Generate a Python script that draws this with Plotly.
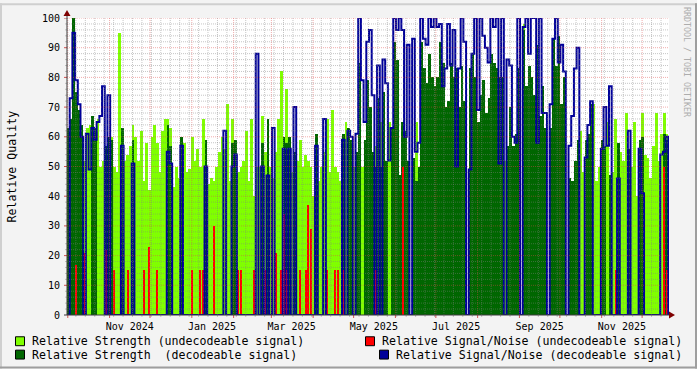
import pandas as pd
import plotly.graph_objects as go

# ---------------- data (2-day samples starting at axis start) ----------------
axis_start = pd.Timestamp("2024-09-30 10:00")
axis_end = pd.Timestamp("2025-12-20 22:30")
sample_days = 2

strength_undec = [
    48, 0, 0, 0, 0, 0, 52, 63, 64, 0,
    0, 66, 50, 52, 53, 0, 60, 50, 48, 95,
    50, 52, 54, 57, 64, 60, 52, 62, 45, 58,
    42, 60, 64, 58, 48, 62, 66, 66, 63, 43,
    50, 46, 0, 58, 48, 49, 60, 52, 56, 50,
    66, 0, 44, 46, 45, 50, 55, 60, 56, 71,
    45, 66, 55, 48, 50, 52, 62, 45, 66, 40,
    50, 50, 67, 55, 65, 50, 46, 55, 66, 82,
    0, 76, 0, 48, 0, 52, 59, 50, 54, 52,
    50, 40, 0, 45, 50, 55, 66, 48, 69, 50,
    48, 45, 0, 65, 0, 0, 50, 0, 0, 50,
    0, 0, 0, 0, 57, 0, 65, 0, 0, 65,
    0, 0, 0, 0, 0, 0, 0, 0, 0, 65,
    0, 0, 0, 0, 0, 0, 0, 0, 0, 0,
    0, 0, 0, 0, 0, 0, 0, 0, 0, 0,
    0, 0, 0, 0, 0, 0, 0, 0, 0, 0,
    0, 0, 52, 0, 0, 0, 0, 0, 0, 98,
    0, 0, 0, 0, 0, 0, 0, 0, 0, 0,
    0, 0, 0, 0, 0, 0, 0, 0, 0, 0,
    62, 48, 0, 48, 0, 71, 45, 50, 0, 0,
    65, 0, 48, 66, 0, 55, 52, 68, 0, 50,
    65, 40, 0, 68, 54, 53, 46, 57, 68, 52,
    61, 68, 61,
]

strength_dec = [
    63, 66, 100, 75, 69, 64, 0, 0, 0, 67,
    63, 0, 0, 0, 57, 60, 59, 0, 0, 0,
    63, 0, 0, 0, 59, 0, 0, 0, 0, 0,
    0, 0, 0, 0, 0, 0, 0, 64, 57, 0,
    0, 0, 60, 0, 0, 0, 0, 0, 0, 0,
    0, 59, 0, 0, 0, 0, 0, 0, 0, 0,
    0, 58, 59, 0, 0, 0, 0, 0, 0, 0,
    0, 0, 58, 0, 66, 0, 0, 0, 0, 0,
    60, 58, 60, 0, 55, 0, 0, 0, 0, 0,
    0, 0, 61, 0, 0, 0, 0, 0, 0, 0,
    0, 0, 61, 0, 63, 59, 0, 55, 85, 0,
    59, 79, 70, 55, 50, 73, 50, 75, 52, 0,
    63, 92, 86, 47, 65, 62, 52, 0, 53, 45,
    50, 92, 83, 78, 88, 80, 77, 80, 92, 85,
    70, 72, 85, 80, 83, 70, 84, 72, 0, 83,
    88, 80, 65, 74, 79, 68, 73, 88, 85, 83,
    80, 80, 0, 57, 70, 57, 61, 83, 0, 96,
    77, 84, 80, 74, 91, 67, 77, 63, 0, 63,
    93, 84, 94, 71, 80, 0, 46, 45, 52, 59,
    0, 0, 59, 61, 71, 0, 0, 0, 59, 57,
    0, 47, 0, 0, 58, 0, 0, 0, 56, 0,
    0, 0, 59, 60, 0, 0, 0, 0, 0, 0,
    0, 61, 59,
]

sn_dec = [
    0, 73, 95, 79, 71, 60, 0, 61, 49, 63,
    59, 65, 67, 77, 0, 74, 0, 0, 0, 0,
    57, 0, 0, 0, 51, 0, 0, 0, 0, 0,
    0, 0, 0, 0, 0, 0, 0, 55, 51, 0,
    0, 0, 57, 0, 0, 0, 0, 0, 0, 0,
    0, 50, 0, 0, 0, 0, 0, 0, 62, 0,
    0, 50, 54, 0, 0, 0, 0, 0, 0, 0,
    88, 0, 50, 0, 47, 0, 63, 0, 0, 0,
    56, 0, 56, 0, 70, 0, 0, 0, 0, 0,
    0, 0, 57, 0, 0, 66, 0, 0, 0, 0,
    0, 0, 59, 0, 62, 60, 0, 61, 100, 79,
    65, 92, 96, 74, 0, 84, 0, 86, 78, 52,
    63, 100, 96, 100, 96, 60, 91, 0, 93, 55,
    58, 100, 93, 91, 100, 97, 100, 97, 98, 77,
    83, 98, 84, 96, 50, 83, 100, 92, 0, 49,
    88, 100, 69, 100, 94, 90, 85, 100, 97, 100,
    51, 100, 0, 86, 84, 60, 58, 100, 0, 97,
    100, 88, 100, 100, 58, 100, 68, 68, 0, 71,
    93, 100, 85, 91, 82, 0, 57, 67, 83, 90,
    0, 0, 53, 64, 72, 0, 0, 0, 56, 70,
    57, 77, 0, 0, 46, 0, 0, 0, 62, 0,
    0, 0, 56, 41, 0, 0, 0, 0, 0, 0,
    54, 55, 60,
]

# undecodeable S/N: sample index -> value (all other samples are 0)
sn_undec_idx = [3, 6, 14, 17, 22, 28, 30, 33, 46, 49, 50, 54, 63, 64, 69, 73,
                77, 79, 80, 81, 86, 88, 89, 90, 96, 99, 100, 102, 114, 124,
                203, 221, 222]
sn_undec_val = [17, 21, 22, 15, 15, 15, 23, 15, 15, 15, 15, 30, 15, 15, 15, 15,
                21, 15, 34, 15, 15, 15, 37, 29, 15, 15, 15, 15, 15, 50,
                15, 50, 15]

y_ticks = list(range(0, 101, 10))
x_label_months = ["2024-11-01", "2025-01-01", "2025-03-01", "2025-05-01",
                  "2025-07-01", "2025-09-01", "2025-11-01"]
legend_labels = ["Relative Strength (undecodeable signal)",
                 "Relative Signal/Noise (undecodeable signal)",
                 "Relative Strength  (decodeable signal)",
                 "Relative Signal/Noise (decodeable signal)"]

# ---------------- derived series ----------------
n = len(strength_undec)
starts = pd.date_range(axis_start, periods=n, freq=f"{sample_days}D")
centers = starts + pd.Timedelta(days=sample_days / 2)
line_x = list(starts) + [starts[-1] + pd.Timedelta(days=sample_days)]
bar_w = sample_days * 86400000
red_x = [centers[i] for i in sn_undec_idx]

C_LG = "#80FF00"
C_DG = "#006600"
C_RED = "#FF0000"
C_BLUE = "#000099"
FONT = "DejaVu Sans Mono"

fig = go.Figure()
fig.add_trace(go.Bar(x=centers, y=strength_undec, width=bar_w,
                     marker=dict(color=C_LG, line=dict(width=0)), hoverinfo="skip"))
fig.add_trace(go.Bar(x=centers, y=strength_dec, width=bar_w,
                     marker=dict(color=C_DG, line=dict(width=0)), hoverinfo="skip"))
# thin 1-px spikes of the undecodeable S/N line
fig.add_trace(go.Bar(x=red_x, y=sn_undec_val, width=0.8 * 86400000,
                     marker=dict(color=C_RED, line=dict(width=0)), hoverinfo="skip"))
fig.add_trace(go.Scatter(x=line_x, y=sn_dec + [0], mode="lines",
                         line=dict(color=C_BLUE, width=2, shape="hv"), hoverinfo="skip"))

# ---------------- geometry helpers ----------------
W, H = 697, 369
L, R, T, B = 67, 28, 15, 54
PW, PH = W - L - R, H - T - B


def px(x):
    return (x - L) / PW


def py(y):
    return (H - B - y) / PH


shapes = []
GRID = "rgba(128,128,128,0.45)"
MGRID = "rgba(225,70,70,0.45)"
DOT = "1px,1px"

# vertical grid
months = pd.date_range("2024-10-01", "2025-12-01", freq="MS")
weeks = [w for w in pd.date_range(axis_start.normalize(), axis_end, freq="W-MON")
         if w > axis_start and w.day != 1]
for w in weeks:
    shapes.append(dict(type="line", xref="x", yref="y", x0=w, x1=w, y0=0, y1=100,
                       line=dict(color=GRID, width=1, dash=DOT), layer="above"))
    shapes.append(dict(type="line", xref="x", yref="paper", x0=w, x1=w, y0=0, y1=py(H - B + 2),
                       line=dict(color=GRID, width=1), layer="above"))
for m in months:
    shapes.append(dict(type="line", xref="x", yref="y", x0=m, x1=m, y0=0, y1=100,
                       line=dict(color=MGRID, width=1, dash=DOT), layer="above"))
    shapes.append(dict(type="line", xref="x", yref="paper", x0=m, x1=m, y0=0, y1=py(H - B + 3),
                       line=dict(color="rgba(200,40,40,0.8)", width=1), layer="above"))
# horizontal grid
for v in range(2, 101, 2):
    major = v % 10 == 0
    shapes.append(dict(type="line", xref="paper", yref="y", x0=0, x1=1, y0=v, y1=v,
                       line=dict(color=MGRID if major else GRID, width=1, dash=DOT),
                       layer="above"))
    shapes.append(dict(type="line", xref="paper", yref="y", x0=px(L - (3 if major else 2)), x1=0,
                       y0=v, y1=v,
                       line=dict(color="rgba(200,40,40,0.8)" if major else GRID, width=1),
                       layer="above"))

# axes + arrows
AX = "#3a3a3a"
shapes.append(dict(type="line", xref="paper", yref="paper", x0=px(L - 3), x1=px(W - R + 1),
                   y0=0, y1=0, line=dict(color=AX, width=1), layer="above"))
shapes.append(dict(type="line", xref="paper", yref="paper", x0=0, x1=0,
                   y0=0, y1=py(T - 3), line=dict(color=AX, width=1), layer="above"))
ARW = "#7F0000"
shapes.append(dict(type="path", xref="paper", yref="paper",
                   path=f"M {px(W-R)},{py(H-B-3.5)} L {px(W-R+6)},{py(H-B)} L {px(W-R)},{py(H-B+3.5)} Z",
                   fillcolor=ARW, line=dict(width=0), layer="above"))
shapes.append(dict(type="path", xref="paper", yref="paper",
                   path=f"M {px(L-3.5)},{py(T-2)} L {px(L)},{py(T-8)} L {px(L+3.5)},{py(T-2)} Z",
                   fillcolor=ARW, line=dict(width=0), layer="above"))

# 3D frame of the image
shapes += [
    dict(type="rect", xref="paper", yref="paper", x0=px(0), x1=px(W), y0=py(2), y1=py(0),
         fillcolor="#CFCFCF", line=dict(width=0), layer="above"),
    dict(type="rect", xref="paper", yref="paper", x0=px(0), x1=px(2), y0=py(H), y1=py(0),
         fillcolor="#CFCFCF", line=dict(width=0), layer="above"),
    dict(type="rect", xref="paper", yref="paper", x0=px(0), x1=px(W), y0=py(H), y1=py(H - 2),
         fillcolor="#9E9E9E", line=dict(width=0), layer="above"),
    dict(type="rect", xref="paper", yref="paper", x0=px(W - 2), x1=px(W), y0=py(H), y1=py(0),
         fillcolor="#9E9E9E", line=dict(width=0), layer="above"),
]

# legend (boxes + labels)
annotations = []
leg_items = [
    (15, 341.5, C_LG, legend_labels[0]),
    (365, 341.5, C_RED, legend_labels[1]),
    (15, 355, C_DG, legend_labels[2]),
    (379, 355, C_BLUE, legend_labels[3]),
]
for x0, yc, col, txt in leg_items:
    shapes.append(dict(type="rect", xref="paper", yref="paper",
                       x0=px(x0 + 0.5), x1=px(x0 + 9.5), y0=py(yc + 4.5), y1=py(yc - 4.5),
                       fillcolor=col, line=dict(color="#000000", width=1), layer="above"))
    annotations.append(dict(xref="paper", yref="paper", x=px(x0 + 14.5), y=py(yc),
                            xanchor="left", yanchor="middle", showarrow=False, text=txt,
                            font=dict(family=FONT, size=11.6, color="#000000")))

annotations.append(dict(xref="paper", yref="paper", x=px(11), y=py(165), text="Relative Quality",
                        textangle=-90, showarrow=False, xanchor="center", yanchor="middle",
                        font=dict(family=FONT, size=11.6, color="#000000")))
annotations.append(dict(xref="paper", yref="paper", x=px(687.5), y=py(60),
                        text="RRDTOOL / TOBI OETIKER", textangle=90, showarrow=False,
                        xanchor="center", yanchor="middle",
                        font=dict(family=FONT, size=8.3, color="#ADADAD")))

label_pos = [pd.Timestamp(m) + pd.Timedelta(days=15) for m in x_label_months]
label_txt = [pd.Timestamp(m).strftime("%b %Y") for m in x_label_months]

fig.update_layout(
    width=W, height=H, margin=dict(l=L, r=R, t=T, b=B),
    paper_bgcolor="#F3F3F3", plot_bgcolor="#FFFFFF",
    barmode="overlay", bargap=0, showlegend=False,
    shapes=shapes, annotations=annotations,
    xaxis=dict(type="date", range=[axis_start, axis_end], showgrid=False, zeroline=False,
               showline=False, tickmode="array", tickvals=label_pos, ticktext=label_txt,
               ticks="outside", ticklen=2, tickcolor="rgba(0,0,0,0)",
               tickfont=dict(family=FONT, size=10, color="#000000"), fixedrange=True),
    yaxis=dict(range=[0, 100], showgrid=False, zeroline=False, showline=False,
               tickmode="array", tickvals=y_ticks, ticktext=[str(v) for v in y_ticks],
               ticks="outside", ticklen=4, tickcolor="rgba(0,0,0,0)",
               tickfont=dict(family=FONT, size=10, color="#000000"), fixedrange=True),
)

fig.write_html("out.html")
